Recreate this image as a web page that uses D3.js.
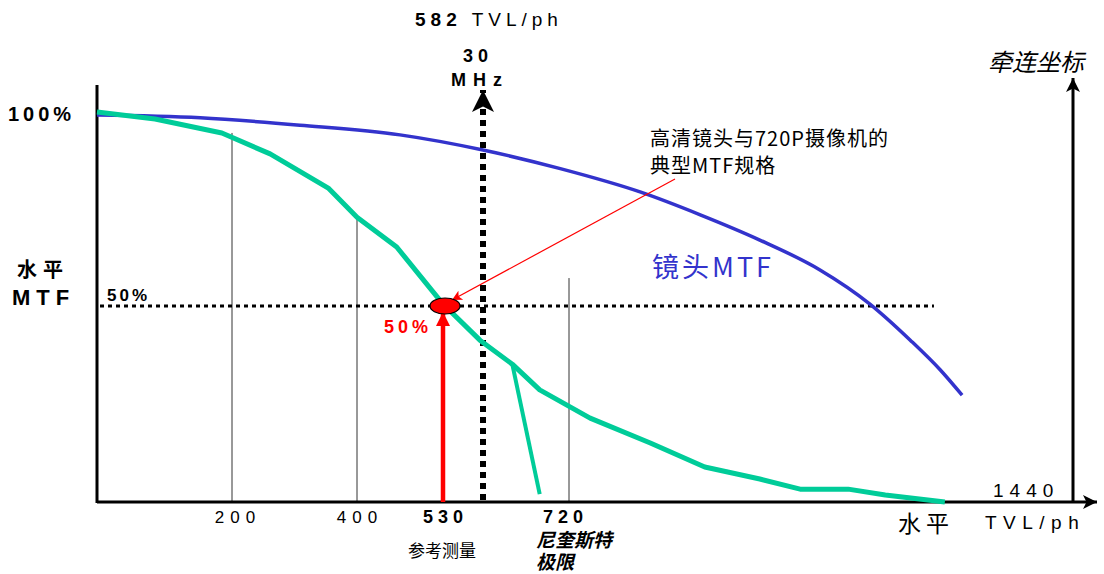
<!DOCTYPE html>
<html><head><meta charset="utf-8">
<script src="https://cdn.jsdelivr.net/npm/d3@7"></script>
<style>
body{margin:0;background:#fff;}
text{font-family:"Liberation Sans",Arial,"Noto Sans CJK SC",sans-serif;}
</style></head>
<body><svg id="c" width="1104" height="574"></svg>
<script>
// Data (x in TVL/ph, y in %)
const greenTVL = [0, 86, 185, 261, 354, 400, 460, 530, 578, 629, 673, 753, 847, 932, 1018, 1081, 1156, 1214, 1307];
const greenMTF = [100, 98.2, 94.6, 89.2, 80.4, 72.9, 65.2, 50.5, 41.2, 35, 28.4, 21.1, 14.7, 8.5, 5.4, 2.8, 2.8, 1.3, -0.5];
const branchTVL = [629, 673];
const branchMTF = [35, 1.5];
const lensTVL = [0, 153, 309, 465, 582, 706, 831, 925, 1018, 1112, 1190, 1253, 1300, 1334];
const lensMTF = [99.2, 98.5, 96.6, 94.1, 90.2, 85.4, 79.4, 73.5, 67, 59.3, 50.5, 41.2, 33.5, 27];
const gridTVL = [200, 400, 720];
const gridTop = [94.6, 72.9, 57.2];
const tickVals = [200, 400, 530, 720];
const tickLabels = ["200", "400", "530", "720"];
const refTVL = 530, nyqTVL = 720, markTVL = 582, maxTVL = 1440;
const halfMTF = 50;

const svg = d3.select("#c");
// the drawing's horizontal axis is not evenly spaced: piecewise-linear scale
const x = d3.scaleLinear().domain([0, 200, 400, 530, 582, 720, 1440, 1500]).range([97, 232, 357, 443, 483, 569, 1030, 1073]);
const y = d3.scaleLinear().domain([0, 100]).range([500, 112]);
const X0 = 97, YB = 502;

const defs = svg.append("defs");
function marker(id, color, w, h, notch) {
  defs.append("marker").attr("id", id).attr("viewBox", "0 0 10 10").attr("refX", 10).attr("refY", 5)
    .attr("markerWidth", w).attr("markerHeight", h).attr("markerUnits", "userSpaceOnUse").attr("orient", "auto")
    .append("path").attr("d", notch ? "M0,0 L10,5 L0,10 L2.5,5 Z" : "M0,0 L10,5 L0,10 Z").attr("fill", color);
}
marker("arrBlack", "#000", 16, 14, true);
marker("arrRed", "red", 14, 10, true);
marker("arrRedBig", "red", 14, 14, false);
marker("arrDot", "#000", 30, 22, true);

// grid lines
gridTVL.forEach((v, i) => {
  svg.append("line").attr("x1", x(v)).attr("x2", x(v)).attr("y1", y(gridTop[i])).attr("y2", YB)
    .attr("stroke", "#333").attr("stroke-width", 1);
});

// 50% dotted line
svg.append("line").attr("x1", 100).attr("x2", x(1290)).attr("y1", y(halfMTF)).attr("y2", y(halfMTF))
  .attr("stroke", "#000").attr("stroke-width", 3).attr("stroke-dasharray", "4,4");

// 582 dotted vertical with arrow
svg.append("line").attr("x1", x(markTVL)).attr("x2", x(markTVL)).attr("y1", 500).attr("y2", 90)
  .attr("stroke", "#000").attr("stroke-width", 6).attr("stroke-dasharray", "6,5")
  .attr("marker-end", "url(#arrDot)");

// axes
svg.append("line").attr("x1", X0).attr("x2", X0).attr("y1", 85).attr("y2", YB + 1).attr("stroke", "#000").attr("stroke-width", 3);
svg.append("line").attr("x1", X0).attr("x2", 1097).attr("y1", YB).attr("y2", YB).attr("stroke", "#000").attr("stroke-width", 3)
  .attr("marker-end", "url(#arrBlack)");
svg.append("line").attr("x1", x(1500)).attr("x2", x(1500)).attr("y1", YB).attr("y2", 78).attr("stroke", "#000").attr("stroke-width", 3)
  .attr("marker-end", "url(#arrBlack)");

// curves
const line = d3.line().x(d => x(d[0])).y(d => y(d[1]));
const lineC = d3.line().x(d => x(d[0])).y(d => y(d[1])).curve(d3.curveMonotoneX);
svg.append("path").attr("d", lineC(d3.zip(lensTVL, lensMTF))).attr("fill", "none")
  .attr("stroke", "#3333cc").attr("stroke-width", 3.5);
svg.append("path").attr("d", line(d3.zip(greenTVL, greenMTF))).attr("fill", "none")
  .attr("stroke", "#00cc99").attr("stroke-width", 5).attr("stroke-linejoin", "round");
svg.append("path").attr("d", line(d3.zip(branchTVL, branchMTF))).attr("fill", "none")
  .attr("stroke", "#00cc99").attr("stroke-width", 4);

// red arrow up
svg.append("line").attr("x1", x(refTVL)).attr("x2", x(refTVL)).attr("y1", YB).attr("y2", y(halfMTF) + 6)
  .attr("stroke", "red").attr("stroke-width", 4.5).attr("marker-end", "url(#arrRedBig)");
// annotation red line
svg.append("line").attr("x1", 675).attr("x2", x(refTVL) + 9).attr("y1", 179).attr("y2", y(halfMTF) - 6)
  .attr("stroke", "red").attr("stroke-width", 1.2).attr("marker-end", "url(#arrRed)");
// ellipse
svg.append("ellipse").attr("cx", x(refTVL) + 2).attr("cy", y(halfMTF)).attr("rx", 15).attr("ry", 8)
  .attr("fill", "red").attr("stroke", "#000").attr("stroke-width", 1.2);

// texts
function txt(s, tx, ty, o) {
  o = o || {};
  const t = svg.append("text").attr("x", tx).attr("y", ty).text(s)
    .attr("font-size", o.size || 16).attr("fill", o.fill || "#000")
    .attr("text-anchor", o.anchor || "start");
  if (o.bold) t.attr("font-weight", "bold");
  if (o.italic) t.attr("font-style", "italic");
  if (o.ls) t.attr("letter-spacing", o.ls);
  if (o.family) t.style("font-family", o.family);
  return t;
}
const cjk = '"Noto Sans CJK SC",sans-serif';
// top label
const t582 = svg.append("text").attr("x", 415).attr("y", 26).attr("font-size", 19).attr("letter-spacing", 5);
t582.append("tspan").attr("font-weight", "bold").text("582");
t582.append("tspan").text(" TVL/ph");
txt("30", x(markTVL) - 5, 62, {size: 18, bold: true, anchor: "middle", ls: 5});
txt("MHz", x(markTVL) - 3, 86, {size: 18, bold: true, anchor: "middle", ls: 7});

txt("100%", 8, 121, {size: 20, bold: true, ls: 4});
txt("水平", 17, 277, {size: 20, bold: true, family: cjk, ls: 6});
txt("MTF", 12, 305, {size: 22, bold: true, ls: 6});
txt("50%", 107, 301, {size: 17, bold: true, ls: 3});
txt("50%", 384, 333, {size: 18, bold: true, fill: "red", ls: 4});

txt("高清镜头与720P摄像机的", 650, 146, {size: 20, family: cjk, ls: 1});
txt("典型MTF规格", 650, 173, {size: 20, family: cjk, ls: 1});
txt("镜头MTF", 652, 277, {size: 27, fill: "#3333cc", family: cjk, ls: 3});
txt("牵连坐标", 988, 71, {size: 24, italic: true, family: cjk});

// bottom ticks
const tickShift = [3, 0, 0, -6];
tickVals.forEach((v, i) => {
  const isBold = (v === refTVL || v === nyqTVL);
  const ls = isBold ? 5 : 6;
  txt(tickLabels[i], x(v) + tickShift[i] + ls / 2, 523,
    {size: isBold ? 18 : 17, bold: isBold, anchor: "middle", ls: ls});
});
txt("参考测量", x(refTVL) - 1, 557, {size: 17, anchor: "middle", family: cjk});
txt("尼奎斯特", 536, 547, {size: 19, italic: true, bold: true, family: cjk});
txt("极限", 536, 569, {size: 19, italic: true, bold: true, family: cjk});
txt("水平", 898, 532, {size: 23, family: cjk, ls: 5});
txt(String(maxTVL), 993, 497, {size: 19, ls: 6});
txt("TVL/ph", 985, 529, {size: 19, ls: 6.5});
</script></body></html>
